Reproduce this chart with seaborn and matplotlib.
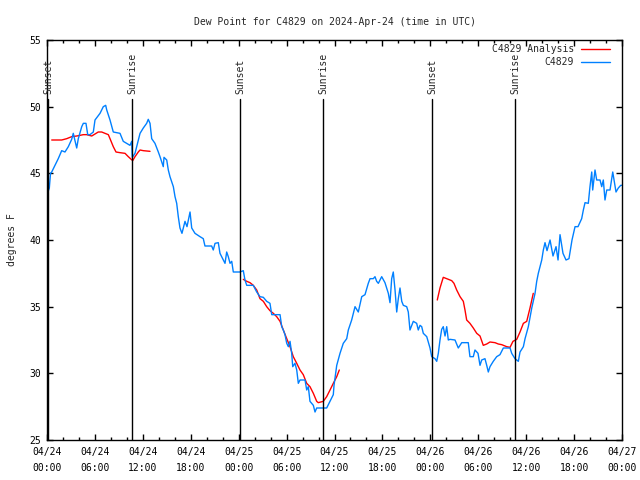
import numpy as np
import pandas as pd
import seaborn as sns
import matplotlib.pyplot as plt
import matplotlib.dates as mdates

START = pd.Timestamp("2024-04-24 00:00")
END = pd.Timestamp("2024-04-27 00:00")

# observed dew point (hours after 04/24 00:00 UTC, degrees F)
obs_hours = [0.0, 0.29, 0.44, 0.59, 1.0, 1.41, 1.84, 2.25, 2.67, 3.09, 3.29, 3.72, 3.92, 4.35, 4.55,
             4.88, 5.10, 5.38, 5.80, 6.01, 6.64, 7.05, 7.35, 7.48, 7.89, 8.30, 9.14, 9.55, 9.98, 10.39,
             10.61, 10.68, 11.02, 11.23, 11.43, 11.65, 12.06, 12.48, 12.68, 12.90, 13.11, 13.52, 13.94,
             14.15, 14.56, 14.65, 14.99, 15.19, 15.40, 15.82, 16.03, 16.24, 16.44, 16.65, 16.9, 17.28,
             17.53, 17.91, 18.12, 18.53, 19.16, 19.57, 19.78, 20.62, 20.82, 21.04, 21.45, 21.66, 22.08,
             22.29, 22.50, 22.70, 22.92, 23.13, 23.33, 24.17, 24.58, 24.79, 25.01, 25.83, 26.26, 26.67,
             27.09, 27.51, 27.92, 28.14, 29.18, 29.39, 29.59, 29.80, 30.02, 30.22, 30.43, 30.64, 30.77,
             31.05, 31.27, 31.47, 31.68, 32.31, 32.52, 32.72, 32.93, 33.35, 33.56, 33.77, 35.02, 35.44,
             35.85, 35.94, 36.28, 36.69, 37.10, 37.53, 37.73, 38.15, 38.57, 38.98, 39.41, 39.82, 40.23,
             40.45, 40.86, 41.07, 41.28, 41.49, 41.91, 42.32, 42.74, 42.95, 43.16, 43.36, 43.58, 43.79,
             43.99, 44.20, 44.42, 44.62, 45.04, 45.24, 45.45, 45.67, 45.87, 46.29, 46.49, 46.71, 46.92,
             47.12, 47.55, 47.96, 48.17, 48.58, 48.80, 49.00, 49.21, 49.42, 49.62, 49.84, 50.05, 50.25,
             50.46, 51.09, 51.50, 51.93, 52.75, 52.96, 53.38, 53.59, 53.97, 54.22, 54.43, 54.84, 55.06,
             55.26, 55.47, 55.88, 56.31, 56.72, 57.14, 57.98, 58.19, 58.60, 59.02, 59.23, 59.65, 59.86,
             60.27, 60.70, 61.11, 61.32, 61.52, 61.95, 62.15, 62.36, 62.61, 62.99, 63.36, 63.74, 63.99,
             64.24, 64.61, 64.99, 65.36, 65.74, 66.12, 66.49, 66.95, 67.16, 67.37, 67.78, 67.99, 68.21,
             68.33, 68.62, 68.83, 69.25, 69.46, 69.66, 69.87, 70.09, 70.50, 70.84, 71.25, 71.54, 71.84,
             72.0]
obs_dewpt = [43.4, 43.9, 45.0, 45.1, 45.6, 46.1, 46.7, 46.6, 47.0, 47.55, 48.0, 46.9, 47.6, 48.5, 48.75,
             48.75, 47.9, 47.9, 48.1, 49.0, 49.5, 50.0, 50.1, 49.75, 49.0, 48.1, 48.0, 47.4, 47.25, 47.1,
             47.4, 46.2, 46.5, 47.0, 47.5, 48.0, 48.4, 48.75, 49.05, 48.75, 47.6, 47.25, 46.6,
             46.25, 45.5, 46.2, 46.0, 45.25, 44.75, 44.0, 43.25, 42.75, 41.75, 40.9, 40.5, 41.4,
             41.0, 42.1, 40.9, 40.5, 40.25, 40.1, 39.55, 39.55, 39.25, 39.75, 39.8, 39.0, 38.5,
             38.25, 39.1, 38.75, 38.25, 38.4, 37.6, 37.6, 37.7, 37.0, 36.6, 36.6, 36.1, 35.75,
             35.7, 35.4, 35.25, 34.4, 34.4, 33.5, 33.25, 32.9, 32.25, 32.0, 32.4, 31.5, 30.5,
             30.75, 30.25, 29.25, 29.5, 29.5, 28.75, 29.0, 27.9, 27.6, 27.1, 27.4, 27.4, 27.9,
             28.4, 29.1, 30.6, 31.5, 32.25, 32.6, 33.25, 34.0, 35.0, 34.6, 35.75, 35.9, 36.75,
             37.1, 37.1, 37.25, 36.9, 36.75, 37.25, 36.8, 36.0, 35.3, 37.1, 37.6, 36.25, 34.6,
             35.6, 36.4, 35.4, 35.1, 35.0, 34.6, 33.25, 33.6, 33.9, 33.75, 33.25, 33.6, 33.5,
             33.0, 32.75, 31.9, 31.25, 31.1, 30.9, 31.5, 32.5, 33.3, 33.5, 32.8, 33.5, 32.5,
             32.55, 32.5, 31.9, 32.3, 32.3, 31.25, 31.25, 31.75, 31.5, 30.6, 31.0, 31.1, 30.6,
             30.1, 30.5, 30.9, 31.25, 31.4, 31.9, 31.9, 31.5, 31.1, 30.9, 31.6, 32.0, 32.6,
             33.5, 34.9, 36.0, 36.9, 37.5, 38.5, 39.25, 39.8, 39.2, 40.0, 38.8, 39.5, 38.5,
             40.4, 39.0, 38.5, 38.6, 40.0, 41.0, 41.0, 41.6, 42.25, 42.8, 42.75, 44.0, 45.1,
             43.75, 45.25, 44.5, 44.5, 44.0, 44.5, 43.0, 43.75, 43.75, 45.1, 43.6, 43.9, 44.1,
             44.1]

# analysis dew point, three separate runs
ana_hours = [0.59, 1.84, 2.47, 3.09, 3.72, 4.55, 4.97, 5.60, 6.01, 6.42, 6.85, 7.26, 7.68, 7.89, 8.30,
             8.64, 9.14, 9.77, 10.18, 10.73, 11.02, 11.43, 11.65, 12.06, 12.90,
             24.58, 25.01, 25.42, 25.83, 26.26, 26.67, 27.09, 27.51, 27.92, 28.34, 28.76, 29.18, 29.59,
             30.02, 30.43, 30.84, 31.27, 31.68, 32.09, 32.52, 32.93, 33.35, 33.77, 33.97, 34.60, 35.02,
             35.44, 35.85, 36.28, 36.60,
             48.87, 49.21, 49.62, 50.05, 50.68, 50.96, 51.30, 51.72, 52.13, 52.34, 52.55, 52.96, 53.38,
             53.81, 54.22, 54.63, 55.06, 55.47, 56.10, 56.51, 56.94, 57.56, 57.98, 58.35, 58.82, 59.23,
             59.65, 60.07, 60.48, 60.89]
ana_dewpt = [47.5, 47.5, 47.6, 47.75, 47.8, 47.9, 47.9, 47.8, 47.95, 48.1, 48.1, 48.0, 47.9, 47.6, 47.0,
             46.6, 46.55, 46.5, 46.25, 45.95, 46.25, 46.6, 46.75, 46.7, 46.65,
             37.05, 36.9, 36.8, 36.6, 36.25, 35.6, 35.4, 35.0, 34.7, 34.5, 34.25, 33.9, 33.25,
             32.6, 32.0, 31.25, 30.75, 30.25, 29.9, 29.25, 29.0, 28.5, 27.9, 27.8, 27.9, 28.25,
             28.75, 29.25, 29.75, 30.25,
             35.5, 36.4, 37.2, 37.1, 36.95, 36.75, 36.25, 35.75, 35.4, 34.75, 34.0, 33.75, 33.4,
             33.0, 32.8, 32.1, 32.2, 32.35, 32.3, 32.2, 32.15, 32.0, 31.95, 32.4, 32.55, 33.1,
             33.75, 33.9, 34.9, 36.0]
ana_run = [1] * 25 + [2] * 30 + [3] * 30

sun_hours = [0.18, 10.68, 24.17, 34.56, 48.2, 58.65]
sun_labels = ["Sunset", "Sunrise", "Sunset", "Sunrise", "Sunset", "Sunrise"]

sns.set_theme(style="ticks")
plt.rcParams["font.family"] = ["DejaVu Sans Mono"]
plt.rcParams["font.size"] = 7

obs = pd.DataFrame({"time": START + pd.to_timedelta(obs_hours, unit="h"), "dewpt": obs_dewpt})
ana = pd.DataFrame({"time": START + pd.to_timedelta(ana_hours, unit="h"), "dewpt": ana_dewpt,
                    "run": ana_run})

fig = plt.figure(figsize=(6.4, 4.8), dpi=100)
ax = fig.add_axes([47 / 640, 40 / 480, 575 / 640, 400 / 480])

sns.lineplot(data=ana, x="time", y="dewpt", units="run", estimator=None, color="#ff0000",
             linewidth=1, ax=ax, label="C4829 Analysis")
sns.lineplot(data=obs, x="time", y="dewpt", color="#0080ff", linewidth=1, ax=ax, label="C4829")

for h, lab in zip(sun_hours, sun_labels):
    t = START + pd.Timedelta(hours=h)
    ax.axvline(t, ymin=0, ymax=0.8525, color="black", linewidth=1)
    ax.text(t, 0.865, lab, transform=ax.get_xaxis_transform(), rotation=90,
            ha="center", va="bottom", fontsize=7)

ax.set_xlim(START, END)
ax.set_ylim(25, 55)
ax.set_yticks(np.arange(25, 56, 5))
ax.xaxis.set_major_locator(mdates.HourLocator(byhour=[0, 6, 12, 18]))
ax.xaxis.set_minor_locator(mdates.HourLocator(interval=2))
ax.xaxis.set_major_formatter(mdates.DateFormatter("%m/%d\n%H:%M"))
ax.tick_params(which="both", direction="in", top=True, right=True, colors="black",
               labelsize=7, width=1)
ax.tick_params(which="major", length=4, pad=4)
ax.tick_params(axis="x", which="major", pad=5)
ax.tick_params(which="minor", length=2)
for sp in ax.spines.values():
    sp.set_color("black")
    sp.set_linewidth(1)

ax.set_xlabel("")
ax.set_ylabel("degrees F", fontsize=7, labelpad=9)
ax.set_title("Dew Point for C4829 on 2024-Apr-24 (time in UTC)", fontsize=7, pad=11)

# one legend entry per series
handles, labels = ax.get_legend_handles_labels()
uniq = dict(zip(labels, handles))
ax.legend(list(uniq.values()), list(uniq.keys()), loc="upper right",
          bbox_to_anchor=((610 - 47) / 575, (440 - 44) / 400), frameon=False,
          markerfirst=False, fontsize=7, handlelength=3, handletextpad=0.7,
          labelspacing=0.3, borderaxespad=0, borderpad=0)

fig.canvas.draw()
for lab in ax.get_xticklabels():
    lab.set_linespacing(1.7)

fig.savefig("out.png", dpi=100)
